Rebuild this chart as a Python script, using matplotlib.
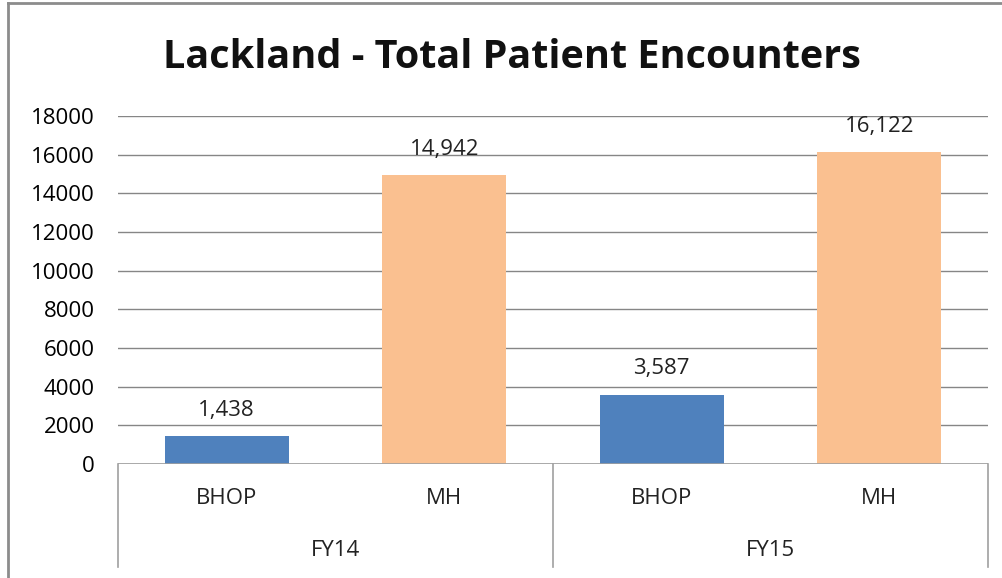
import matplotlib.pyplot as plt
from matplotlib.lines import Line2D

groups = ["FY14", "FY15"]
kinds = ["BHOP", "MH"]
values = [1438, 14942, 3587, 16122]
yticks = [0, 2000, 4000, 6000, 8000, 10000, 12000, 14000, 16000, 18000]
colors = ["#4F81BD", "#FAC090", "#4F81BD", "#FAC090"]

plt.rcParams['font.family'] = ['Open Sans', 'DejaVu Sans']

fig = plt.figure(figsize=(10.03, 5.78), dpi=100)
ax = fig.add_axes([118 / 1003, 1 - 464 / 578, 870 / 1003, 348 / 578])

x = list(range(len(values)))
ax.bar(x, values, width=0.57, color=colors, zorder=3)
for xi, v in zip(x, values):
    ax.annotate(f"{v:,}", (xi, v), xytext=(0, 11), textcoords="offset points",
                ha="center", va="bottom", fontsize=16, color="#222222")

ax.set_xlim(-0.5, len(values) - 0.5)
ax.set_ylim(0, 18000)
ax.set_yticks(yticks)
ax.set_yticklabels([str(t) for t in yticks], fontsize=16)
ax.tick_params(axis="y", length=0, pad=17)
ax.set_xticks([])
ax.grid(axis="y", color="#868686", linewidth=1, zorder=0)
for s in ax.spines.values():
    s.set_visible(False)

# category axis with group separators
gc = "#A0A0A0"
ax.axhline(0, color=gc, linewidth=1.2, zorder=4)
for xs in [-0.5, 1.5, 3.5]:
    ax.add_line(Line2D([xs, xs], [0, -5330], color=gc, linewidth=1.2, clip_on=False))
for xi, k in zip(x, kinds * len(groups)):
    ax.text(xi, -1800, k, ha="center", va="center", fontsize=16, color="#222222")
for gi, g in enumerate(groups):
    ax.text(gi * 2 + 0.5, -4480, g, ha="center", va="center", fontsize=16, color="#222222")

fig.text(512 / 1003, 1 - 57 / 578, "Lackland - Total Patient Encounters", fontsize=28.5,
         fontweight="bold", ha="center", va="center", color="#111111")

# outer chart border (left and top visible)
fig.add_artist(Line2D([8 / 1003, 8 / 1003], [0, 1 - 3 / 578], transform=fig.transFigure,
                      color="#8C8C8C", linewidth=2))
fig.add_artist(Line2D([8 / 1003, 1], [1 - 3 / 578, 1 - 3 / 578], transform=fig.transFigure,
                      color="#8C8C8C", linewidth=2))

fig.savefig("out.png", dpi=100)
